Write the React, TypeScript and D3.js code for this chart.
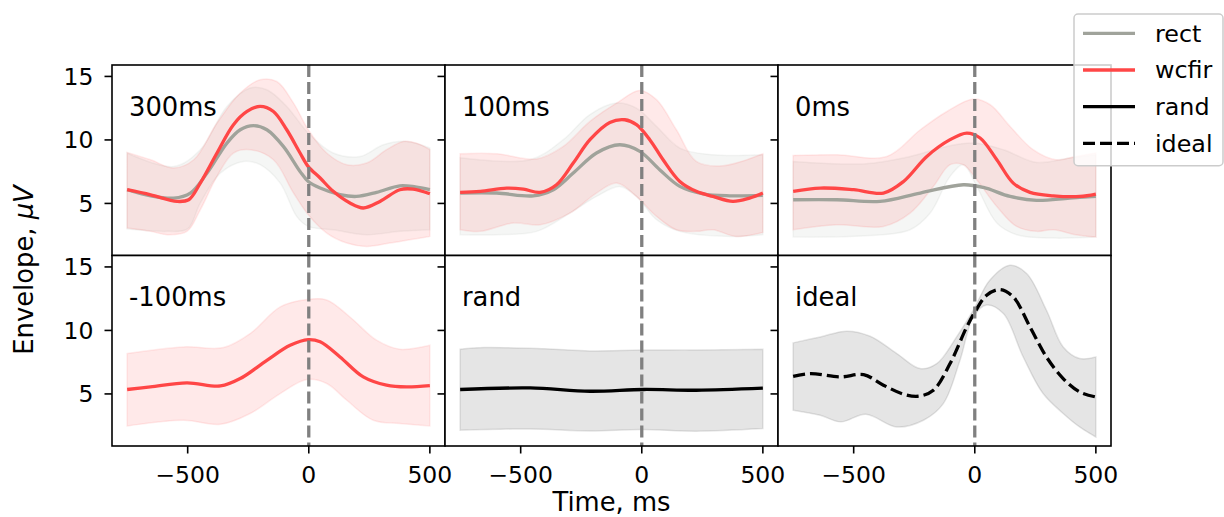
import React, { useRef, useEffect } from 'react';
import * as d3 from 'd3';

type Pt = [number, number];

const xTicks = [-500, 0, 500];
const yTicks = [5, 10, 15];
const panelLabels = ['300ms', '100ms', '0ms', '-100ms', 'rand', 'ideal'];
const legendNames = ['rect', 'wcfir', 'rand', 'ideal'];

// 300ms
const rect300Mean: Pt[] = [[-750, 6.08], [-653, 5.6], [-558, 5.42], [-489, 5.82], [-420, 7.39], [-338, 9.75], [-283, 10.8], [-228, 11.12], [-173, 10.8], [-105, 9.49], [-36, 7.52], [-2, 6.73], [47, 6.21], [129, 5.69], [197, 5.55], [280, 5.87], [376, 6.39], [440, 6.3], [500, 6.08]];
const rect300Hi: Pt[] = [[-750, 8.97], [-558, 7.9], [-448, 9.23], [-338, 12.64], [-242, 14.09], [-173, 13.95], [-91, 12.64], [-2, 10.54], [101, 8.97], [212, 8.7], [308, 9.62], [404, 9.88], [500, 9.36]];
const rect300Lo: Pt[] = [[-750, 2.98], [-585, 2.8], [-500, 3.0], [-448, 5.03], [-365, 7.39], [-269, 8.31], [-201, 8.05], [-118, 6.6], [-50, 3.98], [-2, 3.19], [101, 2.93], [239, 2.54], [376, 2.8], [500, 2.93]];
const wcfir300Mean: Pt[] = [[-750, 6.08], [-653, 5.68], [-544, 5.16], [-496, 5.29], [-448, 6.6], [-379, 8.97], [-311, 11.2], [-255, 12.24], [-201, 12.64], [-146, 12.24], [-91, 10.8], [-36, 8.97], [-2, 7.9], [47, 7.0], [101, 5.95], [170, 5.03], [225, 4.64], [294, 5.16], [376, 6.08], [431, 6.13], [500, 5.76]];
const wcfir300Hi: Pt[] = [[-750, 9.02], [-653, 8.44], [-558, 7.79], [-475, 8.44], [-379, 11.33], [-283, 13.69], [-201, 14.74], [-132, 14.6], [-63, 12.9], [-2, 10.8], [74, 8.97], [157, 8.05], [239, 8.18], [321, 9.23], [390, 9.88], [445, 9.75], [500, 9.23]];
const wcfir300Lo: Pt[] = [[-750, 3.06], [-653, 2.8], [-585, 2.54], [-503, 2.8], [-448, 4.5], [-379, 7.13], [-311, 8.97], [-242, 9.23], [-146, 8.44], [-63, 5.82], [-2, 4.11], [74, 2.67], [157, 1.88], [239, 1.61], [335, 1.88], [417, 2.14], [500, 2.4]];

// 100ms
const rect100Mean: Pt[] = [[-750, 5.82], [-599, 5.82], [-448, 5.6], [-365, 6.08], [-283, 7.39], [-187, 8.97], [-91, 9.62], [-8, 9.1], [74, 7.65], [157, 6.34], [253, 5.76], [363, 5.6], [500, 5.63]];
const rect100Hi: Pt[] = [[-750, 8.6], [-461, 8.44], [-324, 10.02], [-214, 12.0], [-104, 12.9], [-22, 12.5], [61, 11.06], [157, 9.36], [294, 8.83], [500, 8.83]];
const rect100Lo: Pt[] = [[-750, 2.54], [-599, 2.54], [-434, 2.8], [-297, 4.24], [-187, 5.55], [-91, 6.34], [-22, 5.55], [61, 3.72], [157, 2.8], [363, 2.4], [500, 2.54]];
const wcfir100Mean: Pt[] = [[-750, 5.87], [-667, 5.95], [-558, 6.21], [-489, 6.13], [-420, 5.87], [-352, 6.47], [-283, 8.18], [-214, 10.02], [-132, 11.38], [-70, 11.59], [-22, 11.2], [33, 10.02], [88, 8.44], [157, 6.73], [225, 5.95], [294, 5.55], [376, 5.16], [445, 5.42], [500, 5.82]];
const wcfir100Hi: Pt[] = [[-750, 8.91], [-599, 8.91], [-434, 8.5], [-324, 9.49], [-214, 11.46], [-104, 12.9], [-8, 13.9], [61, 13.17], [143, 10.8], [225, 8.31], [335, 7.97], [500, 8.91]];
const wcfir100Lo: Pt[] = [[-750, 2.93], [-667, 2.8], [-530, 3.46], [-420, 3.32], [-297, 4.24], [-187, 5.82], [-104, 6.6], [-22, 5.55], [61, 3.98], [143, 2.93], [225, 2.8], [294, 2.93], [390, 2.4], [500, 2.72]];

// 0ms
const rect0Mean: Pt[] = [[-750, 5.29], [-569, 5.29], [-391, 5.16], [-225, 5.82], [-47, 6.47], [36, 6.26], [146, 5.55], [255, 5.24], [392, 5.42], [500, 5.55]];
const rect0Hi: Pt[] = [[-750, 8.31], [-450, 8.13], [-267, 8.7], [-115, 9.49], [-5, 9.75], [118, 9.23], [255, 8.23], [392, 8.57], [500, 8.83]];
const rect0Lo: Pt[] = [[-750, 2.35], [-450, 2.45], [-267, 2.93], [-184, 4.24], [-102, 7.13], [-47, 8.05], [8, 6.34], [91, 3.46], [173, 2.54], [324, 2.27], [500, 2.35]];
const wcfir0Mean: Pt[] = [[-750, 5.95], [-637, 6.21], [-500, 6.08], [-377, 5.82], [-294, 6.73], [-198, 8.7], [-102, 10.02], [-33, 10.54], [22, 10.15], [91, 8.44], [159, 6.6], [228, 5.87], [324, 5.6], [434, 5.55], [500, 5.74]];
const wcfir0Hi: Pt[] = [[-750, 8.78], [-569, 8.83], [-363, 8.7], [-225, 10.8], [-115, 12.24], [-5, 13.22], [64, 12.77], [146, 11.06], [241, 9.23], [335, 8.44], [417, 8.7], [500, 8.97]];
const wcfir0Lo: Pt[] = [[-750, 2.93], [-569, 3.32], [-377, 3.19], [-267, 4.24], [-171, 6.34], [-102, 8.05], [-47, 8.05], [8, 6.87], [91, 4.76], [173, 3.19], [255, 2.8], [324, 2.93], [417, 2.54], [500, 2.35]];

// -100ms
const wcfirM100Mean: Pt[] = [[-750, 5.35], [-654, 5.55], [-503, 5.87], [-365, 5.63], [-283, 6.21], [-173, 7.65], [-77, 8.83], [-2, 9.28], [47, 9.1], [129, 7.91], [225, 6.34], [321, 5.69], [404, 5.55], [500, 5.66]];
const wcfirM100Hi: Pt[] = [[-750, 8.18], [-517, 8.7], [-352, 8.65], [-242, 9.75], [-118, 11.85], [-8, 12.43], [74, 12.4], [170, 11.06], [280, 9.23], [376, 8.52], [500, 8.83]];
const wcfirM100Lo: Pt[] = [[-750, 2.48], [-517, 2.93], [-365, 2.61], [-242, 3.46], [-118, 5.03], [-8, 6.13], [74, 5.82], [157, 4.5], [266, 2.93], [376, 2.67], [500, 2.48]];

// rand
const randMean: Pt[] = [[-750, 5.35], [-461, 5.47], [-214, 5.21], [8, 5.35], [225, 5.29], [500, 5.45]];
const randHi: Pt[] = [[-750, 8.52], [-650, 8.65], [-400, 8.55], [-214, 8.39], [0, 8.45], [225, 8.45], [500, 8.52]];
const randLo: Pt[] = [[-750, 2.14], [-461, 2.24], [-214, 2.09], [0, 2.2], [225, 2.06], [500, 2.27]];

// ideal
const idealMean: Pt[] = [[-750, 6.39], [-679, 6.6], [-555, 6.34], [-459, 6.52], [-377, 5.69], [-294, 4.98], [-232, 4.82], [-171, 5.29], [-102, 7.39], [-33, 10.28], [1, 11.46], [49, 12.77], [104, 13.22], [159, 12.64], [228, 10.28], [296, 7.91], [365, 6.21], [433, 5.16], [500, 4.76]];
const idealHi: Pt[] = [[-750, 9.02], [-638, 9.49], [-528, 9.94], [-432, 9.54], [-322, 8.18], [-226, 7.0], [-157, 7.39], [-75, 9.49], [-6, 11.59], [62, 13.95], [145, 15.13], [214, 14.48], [296, 11.59], [365, 8.7], [433, 7.79], [500, 7.91]];
const idealLo: Pt[] = [[-750, 3.72], [-638, 3.32], [-553, 2.8], [-450, 3.4], [-322, 2.4], [-212, 2.93], [-130, 4.24], [-61, 7.65], [-6, 11.06], [49, 12.0], [118, 11.33], [200, 7.91], [282, 5.03], [365, 3.46], [433, 2.4], [500, 1.61]];

const RECT = '#a0a39b';
const WCFIR = '#ff4646';
const BLACK = '#000000';
const FONT = 'DejaVu Sans, sans-serif';

const panels = [
  { label: panelLabels[0], series: [
    { mean: rect300Mean, lo: rect300Lo, hi: rect300Hi, color: RECT, dashed: false },
    { mean: wcfir300Mean, lo: wcfir300Lo, hi: wcfir300Hi, color: WCFIR, dashed: false }] },
  { label: panelLabels[1], series: [
    { mean: rect100Mean, lo: rect100Lo, hi: rect100Hi, color: RECT, dashed: false },
    { mean: wcfir100Mean, lo: wcfir100Lo, hi: wcfir100Hi, color: WCFIR, dashed: false }] },
  { label: panelLabels[2], series: [
    { mean: rect0Mean, lo: rect0Lo, hi: rect0Hi, color: RECT, dashed: false },
    { mean: wcfir0Mean, lo: wcfir0Lo, hi: wcfir0Hi, color: WCFIR, dashed: false }] },
  { label: panelLabels[3], series: [
    { mean: wcfirM100Mean, lo: wcfirM100Lo, hi: wcfirM100Hi, color: WCFIR, dashed: false }] },
  { label: panelLabels[4], series: [
    { mean: randMean, lo: randLo, hi: randHi, color: BLACK, dashed: false }] },
  { label: panelLabels[5], series: [
    { mean: idealMean, lo: idealLo, hi: idealHi, color: BLACK, dashed: true }] },
];

function App() {
  const svgRef = useRef<SVGSVGElement>(null);

  useEffect(() => {
    const width = 1224;
    const height = 517;
    const colX = [112, 445, 778];
    const rowY = [65, 255.5];
    const pw = 333;
    const ph = 190.5;

    const svg = d3.select(svgRef.current);
    svg.selectAll('*').remove();
    svg.append('rect').attr('width', width).attr('height', height).attr('fill', '#fff');

    const x = d3.scaleLinear().domain([-812.5, 562.5]).range([0, pw]);
    const y = d3.scaleLinear().domain([0.9, 15.9]).range([ph, 0]);

    const line = d3.line<Pt>().x(d => x(d[0])).y(d => y(d[1])).curve(d3.curveCatmullRom.alpha(0.5));

    panels.forEach((p, i) => {
      const row = Math.floor(i / 3);
      const col = i % 3;
      const g = svg.append('g').attr('transform', `translate(${colX[col]},${rowY[row]})`);

      g.append('clipPath').attr('id', `clip${i}`)
        .append('rect').attr('width', pw).attr('height', ph);
      g.append('rect').attr('width', pw).attr('height', ph).attr('fill', '#fff');

      const inner = g.append('g').attr('clip-path', `url(#clip${i})`);

      // bands first
      p.series.forEach(s => {
        const up = line(s.hi) as string;
        const dn = line([...s.lo].reverse()) as string;
        const band = up + 'L' + dn.slice(1) + 'Z';
        inner.append('path')
          .attr('d', band)
          .attr('fill', s.color)
          .attr('fill-opacity', s.color === WCFIR ? 0.12 : 0.1)
          .attr('stroke', s.color)
          .attr('stroke-opacity', 0.1)
          .attr('stroke-width', 1.5);
      });

      // mean lines
      p.series.forEach(s => {
        inner.append('path')
          .attr('d', line(s.mean) as string)
          .attr('fill', 'none')
          .attr('stroke', s.color)
          .attr('stroke-width', 3.3)
          .attr('stroke-dasharray', s.dashed ? '12,5' : null);
      });

      // stimulus onset
      inner.append('line')
        .attr('x1', x(0)).attr('x2', x(0))
        .attr('y1', 0).attr('y2', ph)
        .attr('stroke', '#808080')
        .attr('stroke-width', 3.3)
        .attr('stroke-dasharray', '12,5');

      g.append('text')
        .attr('x', 17).attr('y', 50.5)
        .attr('font-family', FONT).attr('font-size', 25.8)
        .attr('fill', '#000')
        .text(p.label);

      g.append('rect').attr('width', pw).attr('height', ph)
        .attr('fill', 'none').attr('stroke', '#000').attr('stroke-width', 1.6);

      // y ticks
      yTicks.forEach(v => {
        g.append('line')
          .attr('x1', -7.5).attr('x2', 0)
          .attr('y1', y(v)).attr('y2', y(v))
          .attr('stroke', '#000').attr('stroke-width', 1.6);
        if (col === 0) {
          g.append('text')
            .attr('x', -18.5).attr('y', y(v) + 8.3)
            .attr('text-anchor', 'end')
            .attr('font-family', FONT).attr('font-size', 23.5)
            .text(v);
        }
      });

      // x ticks on bottom row
      if (row === 1) {
        xTicks.forEach(t => {
          g.append('line')
            .attr('x1', x(t)).attr('x2', x(t))
            .attr('y1', ph).attr('y2', ph + 7.5)
            .attr('stroke', '#000').attr('stroke-width', 1.6);
          g.append('text')
            .attr('x', x(t)).attr('y', ph + 36.5)
            .attr('text-anchor', 'middle')
            .attr('font-family', FONT).attr('font-size', 23.5)
            .text(t < 0 ? `\u2212${Math.abs(t)}` : `${t}`);
        });
      }
    });

    // axis labels
    svg.append('text')
      .attr('x', 611.5).attr('y', 511)
      .attr('text-anchor', 'middle')
      .attr('font-family', FONT).attr('font-size', 25.8)
      .text('Time, ms');

    const yl = svg.append('text')
      .attr('transform', 'translate(33,270) rotate(-90)')
      .attr('text-anchor', 'middle')
      .attr('font-family', FONT).attr('font-size', 25.8);
    yl.append('tspan').text('Envelope, ');
    yl.append('tspan').attr('font-style', 'italic').text('\u03bcV');

    // legend
    const lg = svg.append('g');
    lg.append('rect')
      .attr('x', 1074).attr('y', 14).attr('width', 149).attr('height', 151.7)
      .attr('rx', 4)
      .attr('fill', '#fff').attr('fill-opacity', 0.8)
      .attr('stroke', '#cccccc').attr('stroke-width', 1.5);
    const legendColors = [RECT, WCFIR, BLACK, BLACK];
    legendNames.forEach((name, i) => {
      const cy = 33.3 + i * 36.7;
      lg.append('line')
        .attr('x1', 1083).attr('x2', 1135)
        .attr('y1', cy).attr('y2', cy)
        .attr('stroke', legendColors[i])
        .attr('stroke-width', 3.3)
        .attr('stroke-dasharray', name === 'ideal' ? '12,5' : null);
      lg.append('text')
        .attr('x', 1155).attr('y', cy + 8.3)
        .attr('font-family', FONT).attr('font-size', 23.8)
        .text(name);
    });
  }, []);

  return (
    <svg
      ref={svgRef}
      width={1224}
      height={517}
      viewBox="0 0 1224 517"
      style={{ position: 'absolute', left: 0, top: 0 }}
    />
  );
}

export default App;
